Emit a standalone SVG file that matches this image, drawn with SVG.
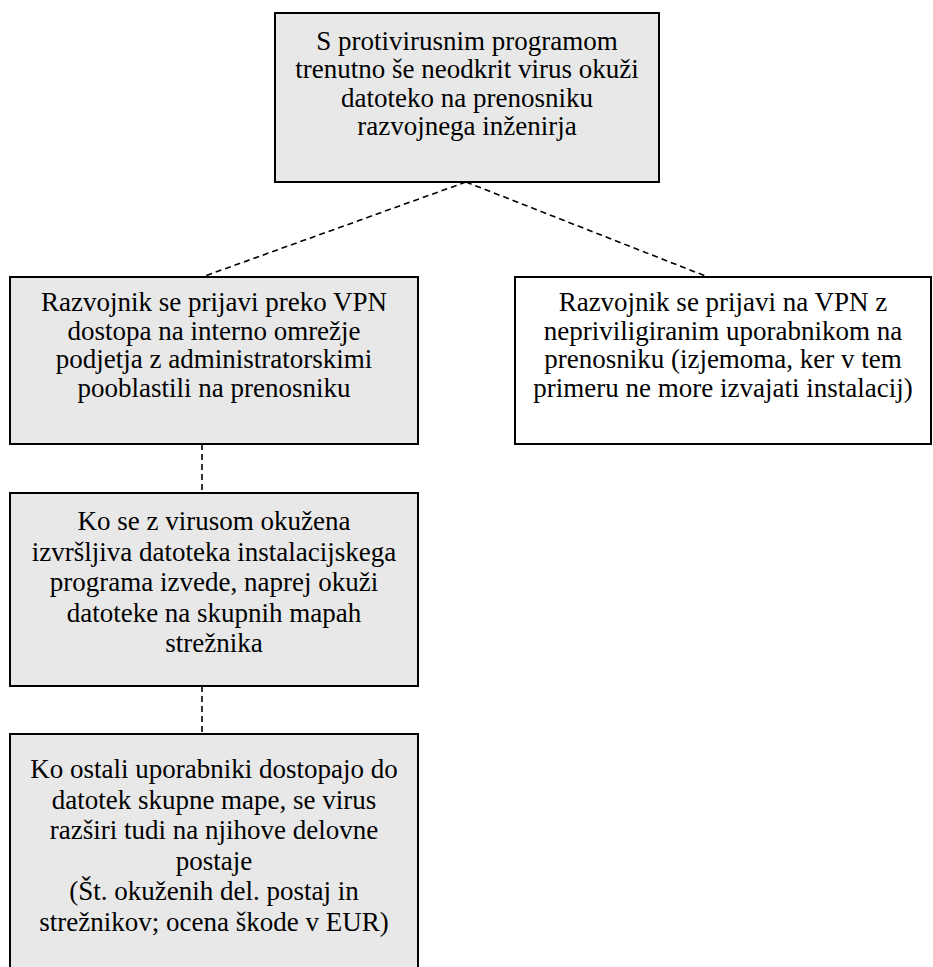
<svg xmlns="http://www.w3.org/2000/svg" width="933" height="967" viewBox="0 0 933 967">
  <style>
    .box { fill: #e8e8e8; stroke: #000; stroke-width: 2; }
    .box.plain { fill: #fff; }
    .lbl { font-size: 27px; fill: #000; text-anchor: middle; }
    .link { fill: none; stroke: #000; stroke-width: 1.6; stroke-dasharray: 6 4; }
  </style>
  <rect width="933" height="967" fill="#fff"/>

  <g id="connectors">
    <line class="link" x1="466" y1="182" x2="202" y2="277"/>
    <line class="link" x1="466" y1="182" x2="708" y2="277"/>
    <line class="link" x1="202" y1="444" x2="202" y2="493"/>
    <line class="link" x1="202" y1="686" x2="202" y2="734"/>
  </g>

  <g font-family="'Liberation Serif', 'Times New Roman', Times, serif">
  <g id="n-infekcija">
    <rect class="box" x="275" y="13" width="384" height="169"/>
    <text class="lbl" x="467" y="50">S protivirusnim programom</text>
    <text class="lbl" x="467" y="78.3">trenutno še neodkrit virus okuži</text>
    <text class="lbl" x="467" y="106.6">datoteko na prenosniku</text>
    <text class="lbl" x="467" y="135">razvojnega inženirja</text>
  </g>

  <g id="n-vpn-admin">
    <rect class="box" x="10" y="277" width="408" height="167"/>
    <text class="lbl" x="214" y="311">Razvojnik se prijavi preko VPN</text>
    <text class="lbl" x="214" y="339.5">dostopa na interno omrežje</text>
    <text class="lbl" x="214" y="368">podjetja z administratorskimi</text>
    <text class="lbl" x="214" y="396.5">pooblastili na prenosniku</text>
  </g>

  <g id="n-vpn-user">
    <rect class="box plain" x="515" y="277" width="416" height="167"/>
    <text class="lbl" x="723" y="311">Razvojnik se prijavi na VPN z</text>
    <text class="lbl" x="723" y="339.5">nepriviligiranim uporabnikom na</text>
    <text class="lbl" x="723" y="368">prenosniku (izjemoma, ker v tem</text>
    <text class="lbl" x="723" y="396.5">primeru ne more izvajati instalacij)</text>
  </g>

  <g id="n-streznik">
    <rect class="box" x="10" y="493" width="408" height="193"/>
    <text class="lbl" x="214" y="530">Ko se z virusom okužena</text>
    <text class="lbl" x="214" y="560.6">izvršljiva datoteka instalacijskega</text>
    <text class="lbl" x="214" y="591.2">programa izvede, naprej okuži</text>
    <text class="lbl" x="214" y="621.8">datoteke na skupnih mapah</text>
    <text class="lbl" x="214" y="652.4">strežnika</text>
  </g>

  <g id="n-postaje">
    <rect class="box" x="10" y="734" width="408" height="240"/>
    <text class="lbl" x="214" y="778">Ko ostali uporabniki dostopajo do</text>
    <text class="lbl" x="214" y="808.6">datotek skupne mape, se virus</text>
    <text class="lbl" x="214" y="839.2">razširi tudi na njihove delovne</text>
    <text class="lbl" x="214" y="869.8">postaje</text>
    <text class="lbl" x="214" y="900.4">(Št. okuženih del. postaj in</text>
    <text class="lbl" x="214" y="931">strežnikov; ocena škode v EUR)</text>
  </g>
  </g>
</svg>
